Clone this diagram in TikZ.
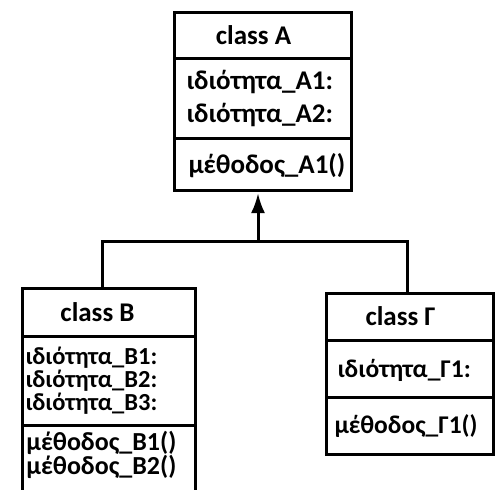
\documentclass[tikz,border=0pt]{standalone}
\usepackage{fontspec}
\setmainfont{Carlito}
\usetikzlibrary{positioning,arrows.meta}
\begin{document}
\begin{tikzpicture}[x=1pt,y=-1pt,>={Latex[length=20pt,width=14pt]},line width=3pt,
        box/.style={draw, rectangle, outer sep=0pt, inner sep=0pt},
        title/.style={inner sep=0pt, font=\fontsize{27}{30}\selectfont\bfseries},
        member/.style 2 args={anchor=west, align=left, inner sep=0pt, font=\fontsize{#1}{#2}\selectfont\bfseries}]
        \useasboundingbox (0,0) rectangle (496,490);

        % class A
        \node (aHead) [box, anchor=north west, minimum width=177pt, minimum height=46pt] at (174,12) {};
        \node (aProps) [box, below=0pt of aHead, minimum width=177pt, minimum height=80pt] {};
        \node (aMeth) [box, below=0pt of aProps, minimum width=177pt, minimum height=52pt] {};
        \node (aTitle) [title, xshift=-9pt] at (aHead) {class A};
        \node (aAttr) [member={27}{33}] at (185,98.5) {ιδιότητα\_A1:\\ιδιότητα\_A2:};
        \node (aOps) [member={27}{30}] at (187,166) {μέθοδος\_A1()};

        % class B
        \node (bHead) [box, anchor=north west, minimum width=173pt, minimum height=48pt] at (22,288) {};
        \node (bProps) [box, below=0pt of bHead, minimum width=173pt, minimum height=89pt] {};
        \node (bMeth) [box, below=0pt of bProps, minimum width=173pt, minimum height=66pt] {};
        \node (bTitle) [title, xshift=-11pt] at (bHead) {class B};
        \node (bAttr) [member={24.5}{23}] at (24,381) {ιδιότητα\_B1:\\ιδιότητα\_B2:\\ιδιότητα\_B3:};
        \node (bOps) [member={26}{24}] at (25,455) {μέθοδος\_B1()\\μέθοδος\_B2()};

        % class Γ
        \node (gHead) [box, anchor=north west, minimum width=167pt, minimum height=47pt] at (326,293) {};
        \node (gProps) [box, below=0pt of gHead, minimum width=167pt, minimum height=57pt] {};
        \node (gMeth) [box, below=0pt of gProps, minimum width=167pt, minimum height=57pt] {};
        \node (gTitle) [title, xshift=-9pt] at (gHead) {class Γ};
        \node (gAttr) [member={25.5}{30}] at (336,370) {ιδιότητα\_Γ1:};
        \node (gOps) [member={25.5}{30}] at (333,426) {μέθοδος\_Γ1()};

        % inheritance
        \coordinate (join) at (258,241);
        \draw[->, shorten >=3pt] (join) -- (join |- aMeth.south);
        \draw ([xshift=-6pt]bHead.north) |- (join) -| ([xshift=-2pt]gHead.north);
    \end{tikzpicture}
\end{document}
